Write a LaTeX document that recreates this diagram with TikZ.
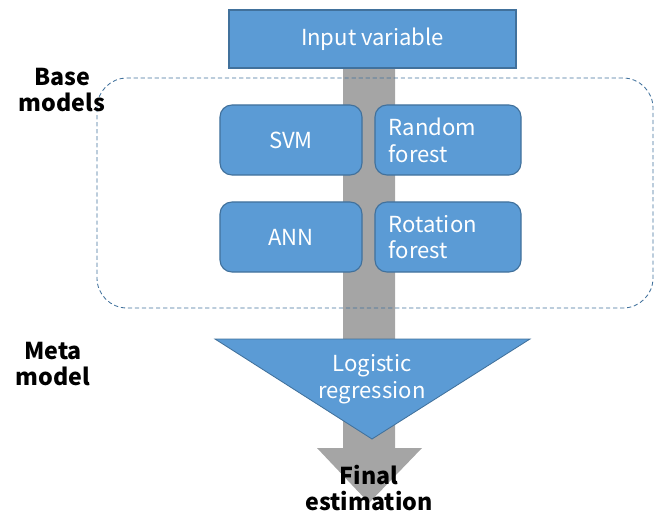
\documentclass[tikz,border=0pt]{standalone}
\usepackage{fontspec}
\setmainfont{Noto Sans CJK KR}
\definecolor{boxblue}{HTML}{5B9BD5}
\definecolor{boxedge}{HTML}{41719C}
\definecolor{shaft}{HTML}{A5A5A5}

\begin{document}
\begin{tikzpicture}[x=0.025cm, y=-0.025cm, line width=0.8pt,
    block/.style={draw=boxedge, fill=boxblue, text=white, font=\fontsize{15.7}{19}\selectfont},
    model/.style={block, rounded corners=0.3cm, minimum height=1.75cm},
    leftmodel/.style={model, minimum width=3.55cm},
    rightmodel/.style={model, minimum width=3.65cm, inner xsep=0.35cm, text width=2.95cm, align=left},
    stage/.style={font=\bfseries\fontsize{16.5}{18.5}\selectfont, align=center}]
    \useasboundingbox (0,0) rectangle (657,512);

    % gray flow arrow behind everything
    \fill[shaft] (343,68) -- (395,68) -- (395,448) -- (422,448) -- (369,503)
        -- (317,448) -- (343,448) -- cycle;

    % group of base learners
    \draw[boxedge, line width=0.6pt, dashed, dash pattern=on 3pt off 2pt, rounded corners=0.75cm]
        (97,78) rectangle (653,308);

    \node[block, minimum width=7.175cm, minimum height=1.45cm] (input) at (372.5,39) {Input variable};

    \node[leftmodel] (svm) at (291,140) {SVM};
    \node[rightmodel] (rf) at (448,140) {Random\\forest};
    \node[leftmodel] (ann) at (291,237) {ANN};
    \node[rightmodel] (rotf) at (448,237) {Rotation\\forest};

    % meta learner as a funnel
    \draw[boxedge, fill=boxblue, line width=0.6pt] (215,339) -- (530,339) -- (372,439) -- cycle;
    \node[block, draw=none, fill=none, align=center] (meta) at (372,379) {Logistic\\regression};

    \node[stage] (final) at (369,488) {Final\\estimation};
    \node[stage] (base) at (62,90) {Base\\models};
    \node[stage] (metalbl) at (53,364) {Meta\\model};
\end{tikzpicture}
\end{document}
